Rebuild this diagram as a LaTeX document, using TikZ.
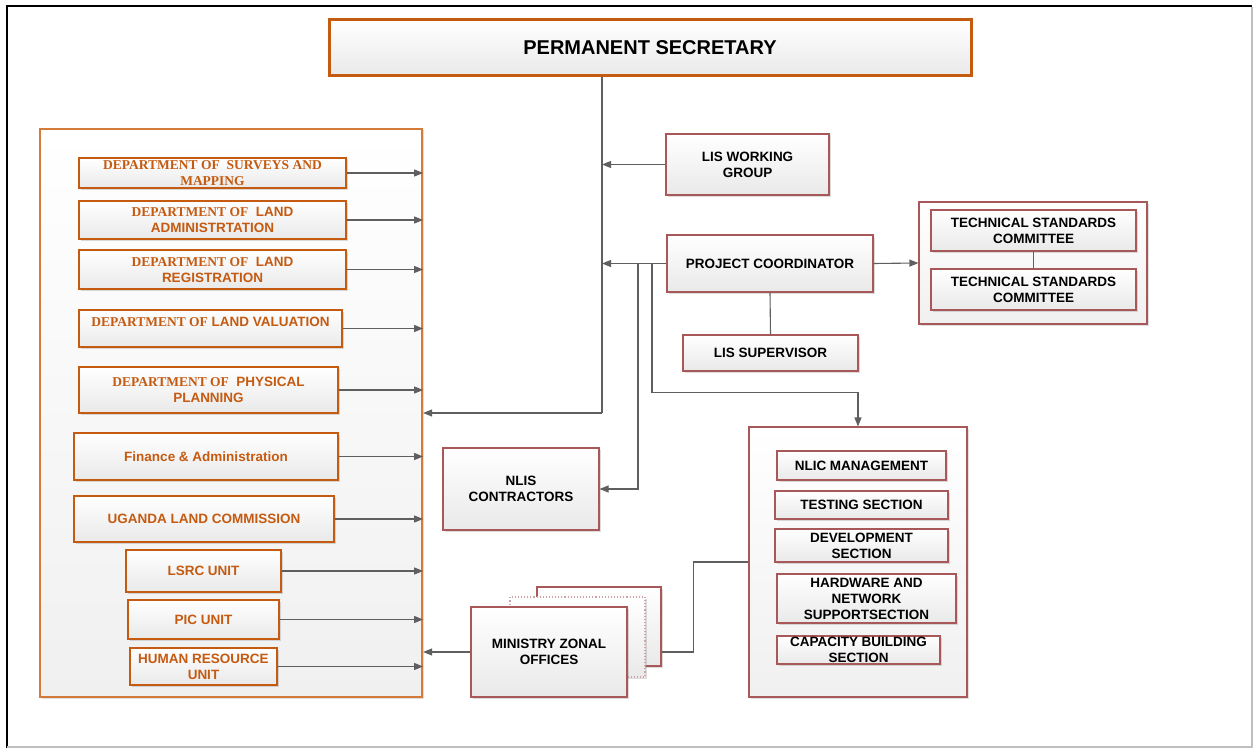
\documentclass[tikz,border=0pt]{standalone}
\usepackage{fontspec}
\setmainfont{Liberation Sans}
\newfontfamily\deptserif{Liberation Serif}
\usetikzlibrary{shadows,arrows.meta,calc}

\definecolor{deptorange}{RGB}{197,90,17}
\definecolor{frameorange}{RGB}{212,122,58}
\definecolor{boxred}{RGB}{168,88,88}
\definecolor{linkgray}{RGB}{95,95,95}
\definecolor{shadebottom}{RGB}{233,233,233}
\definecolor{panelbottom}{RGB}{240,240,240}

\tikzset{
  base/.style={rectangle, inner sep=1pt, align=center,
    font=\bfseries\fontsize{13.5}{16}\selectfont,
    top color=white, bottom color=shadebottom,
    drop shadow={shadow xshift=1.5pt, shadow yshift=-1.5pt, opacity=0.28}},
  redbox/.style={base, draw=boxred, line width=1.1pt, text=black},
  deptbox/.style={base, draw=deptorange, line width=1.3pt, text=deptorange},
  headbox/.style={base, draw=deptorange, line width=3pt, text=black,
    font=\bfseries\fontsize{20}{24}\selectfont},
  panel/.style={rectangle, top color=white, bottom color=panelbottom,
    drop shadow={shadow xshift=1.5pt, shadow yshift=-1.5pt, opacity=0.25}},
  link/.style={draw=linkgray, line width=1.1pt},
  arr/.style={link, -{Triangle[length=9pt,width=7pt]}},
}

\begin{document}
\begin{tikzpicture}[x=1pt, y=-1pt]
\useasboundingbox (0,0) rectangle (1253,749);

% page frame
\draw[black, line width=2pt] (7,748) -- (7,6) -- (1252,6);
\draw[black!25, line width=1.5pt] (1252,7) -- (1252,747) -- (7,747);

% head of the organisation
\node[headbox, minimum width=642pt, minimum height=56pt] (ps) at (650,48) {PERMANENT SECRETARY};

% departments panel
\node[panel, draw=frameorange, line width=2.2pt, minimum width=382pt, minimum height=568pt] (dept) at (231,413) {};

\node[deptbox, minimum width=267pt, minimum height=30pt] (d1) at (212.5,173)
  {\deptserif DEPARTMENT OF\ \ SURVEYS AND\\\deptserif MAPPING};
\node[deptbox, minimum width=267pt, minimum height=38pt] (d2) at (212.5,220)
  {{\deptserif DEPARTMENT OF}\ \ LAND\\ADMINISTRTATION};
\node[deptbox, minimum width=267pt, minimum height=39pt] (d3) at (212.5,269.5)
  {{\deptserif DEPARTMENT OF}\ \ LAND\\REGISTRATION};
\node[deptbox, minimum width=263pt, minimum height=37pt] (d4) at (210.5,328.5)
  {{\deptserif DEPARTMENT OF}\ LAND VALUATION\\[-2pt]\mbox{}};
\node[deptbox, minimum width=259pt, minimum height=46pt] (d5) at (208.5,390)
  {{\deptserif DEPARTMENT OF}\ \ PHYSICAL\\PLANNING};
\node[deptbox, minimum width=264pt, minimum height=47pt] (d6) at (206,456.5)
  {Finance \& Administration};
\node[deptbox, minimum width=260pt, minimum height=46pt] (d7) at (204,519)
  {UGANDA LAND COMMISSION};
\node[deptbox, minimum width=155pt, minimum height=42pt] (d8) at (203.5,571)
  {LSRC UNIT};
\node[deptbox, minimum width=151pt, minimum height=39pt] (d9) at (203.5,619.5)
  {PIC UNIT};
\node[deptbox, minimum width=147pt, minimum height=37pt] (d10) at (203.5,666.5)
  {HUMAN RESOURCE\\UNIT};

% project side
\node[redbox, minimum width=163pt, minimum height=61pt] (lis) at (747.5,164.5) {LIS WORKING\\GROUP};
\node[redbox, minimum width=206pt, minimum height=57pt] (pc) at (770,263.5) {PROJECT COORDINATOR};
\node[redbox, minimum width=175pt, minimum height=36pt] (sup) at (770.5,353) {LIS SUPERVISOR};

\node[panel, draw=boxred, line width=1.1pt, minimum width=228pt, minimum height=122pt] (tech) at (1033,263) {};
\node[redbox, minimum width=205pt, minimum height=41pt] (tsc1) at (1033.5,230.5) {TECHNICAL STANDARDS\\COMMITTEE};
\node[redbox, minimum width=205pt, minimum height=41pt] (tsc2) at (1033.5,289.5) {TECHNICAL STANDARDS\\COMMITTEE};

\node[redbox, minimum width=156pt, minimum height=82pt] (nlis) at (521,489) {NLIS\\CONTRACTORS};

\node[panel, draw=boxred, line width=1.1pt, minimum width=218pt, minimum height=270pt] (nlic) at (858,562) {};
\node[redbox, minimum width=169pt, minimum height=29pt] (mgmt) at (861.5,465.5) {NLIC MANAGEMENT};
\node[redbox, minimum width=173pt, minimum height=28pt] (test) at (861.5,505) {TESTING SECTION};
\node[redbox, minimum width=173pt, minimum height=33pt] (dev) at (861.5,545.5) {DEVELOPMENT\\SECTION};
\node[redbox, minimum width=179pt, minimum height=49pt] (hw) at (866.5,598.5) {HARDWARE AND\\NETWORK\\SUPPORTSECTION};
\node[redbox, minimum width=163pt, minimum height=28pt] (cap) at (858.5,650) {CAPACITY BUILDING\\SECTION};

% zonal offices stack
\node[redbox, minimum width=124pt, minimum height=79pt] (mzoback) at (599,626.5) {};
\node[base, draw=boxred!55, line width=1.1pt, dotted, minimum width=135pt, minimum height=80pt] (mzomid) at (577.5,637) {};
\node[redbox, minimum width=156pt, minimum height=90pt] (mzo) at (549,652) {MINISTRY ZONAL\\OFFICES};

% connectors
\coordinate (trunk) at (602,413);
\coordinate (b1) at (638,263.5);
\coordinate (b2) at (652,263.5);

\draw[link] (ps.south -| trunk) -- (trunk);
\draw[arr] (trunk) -- (trunk -| dept.east);
\draw[arr] (lis.west) -- (lis.west -| trunk);
\draw[arr] (pc.west) -- (pc.west -| trunk);
\draw[arr] (b1) |- (nlis.east);
\draw[arr] (b2) |- ([yshift=34pt]nlic.north) -- (nlic.north);
\draw[arr] (pc.east) -- (tech.west);
\draw[link] (pc.south) -- (sup.north);
\draw[link] (tsc1.south) -- (tsc2.north);
\draw[link] (mzo.east -| mzoback.east) -- ++(32,0) |- (nlic.west);
\draw[arr] (mzo.west) -- (mzo.west -| dept.east);

\foreach \d in {d1,d2,d3,d4,d5,d6,d7,d8,d9,d10}
  \draw[arr] (\d.east) -- (\d.east -| dept.east);
\end{tikzpicture}
\end{document}
